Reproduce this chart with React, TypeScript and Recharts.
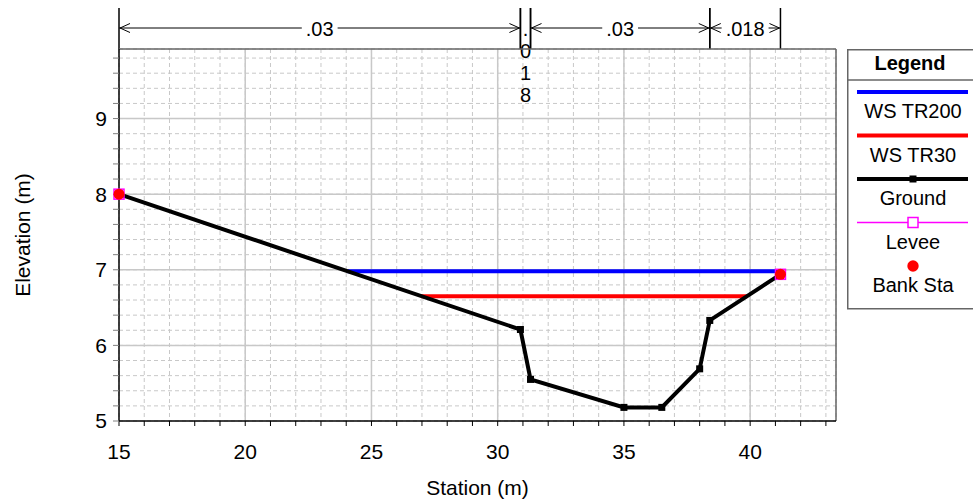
import React from 'react';
import {
  ComposedChart,
  Line,
  XAxis,
  YAxis,
  CartesianGrid,
  ReferenceLine,
  ReferenceArea,
  Legend,
} from 'recharts';

// ground profile
const groundStation = [15, 30.9, 31.3, 35.0, 36.5, 38.0, 38.4, 41.2];
const groundElev = [8.0, 6.21, 5.55, 5.18, 5.18, 5.69, 6.33, 6.94];

// water surfaces
const tr200Station = [24.05, 41.2];
const tr200Elev = [6.98, 6.98];
const tr30Station = [26.96, 39.89];
const tr30Elev = [6.65, 6.65];

// levees and bank stations
const leveeStation = [15, 41.2];
const leveeElev = [8.0, 6.94];
const bankStation = [15, 41.2];
const bankElev = [8.0, 6.94];

// manning's n along the top
const nBreaks = [15, 30.9, 31.3, 38.4, 41.2];
const nValues = ['.03', '.018', '.03', '.018'];

const xDomain = [15, 43.4];
const yDomain = [5, 9.92];
const xMajor = [20, 25, 30, 35, 40];
const yMajor = [6, 7, 8, 9];
const xTicks = Array.from({ length: 29 }, (_, i) => 15 + i);
const yTicks = Array.from({ length: 25 }, (_, i) => Number((5 + i * 0.2).toFixed(1)));

const FONT = '"Liberation Sans", Arial, Helvetica, sans-serif';

const toPoints = (xs: number[], ys: number[]) => xs.map((x, i) => ({ x, y: ys[i] }));

const ground = toPoints(groundStation, groundElev);
const tr200 = toPoints(tr200Station, tr200Elev);
const tr30 = toPoints(tr30Station, tr30Elev);
const levee = toPoints(leveeStation, leveeElev);
const bank = toPoints(bankStation, bankElev);

const SquareDot = (p: any) => (
  <rect key={`g${p.index}`} x={p.cx - 3.5} y={p.cy - 3.5} width={7} height={7} fill="#000" />
);
const LeveeDot = (p: any) => (
  <rect key={`l${p.index}`} x={p.cx - 5} y={p.cy - 5} width={10} height={10} fill="none" stroke="#ff00ff" strokeWidth={1.5} />
);
const BankDot = (p: any) => (
  <circle key={`b${p.index}`} cx={p.cx} cy={p.cy} r={5.5} fill="#ff0000" />
);

const charW = (s: string, fs: number) =>
  s.split('').reduce((w, c) => w + (c === '.' ? 0.278 : 0.556) * fs, 0);

const nShape = (label: string) => (props: any) => {
  const { x, y, width } = props;
  const x1 = x;
  const x2 = x + width;
  const top = y - 41;
  const ay = y - 21;
  const fs = 20;
  const cx = (x1 + x2) / 2;
  const boundaries = (
    <g stroke="#000" strokeWidth={1.5}>
      <line x1={x1} y1={top} x2={x1} y2={y} />
      <line x1={x2} y1={top} x2={x2} y2={y} />
    </g>
  );
  if (width < 20) {
    return (
      <g>
        {boundaries}
        {label.split('').map((c, i) => (
          <text key={i} x={cx} y={ay + 8 + i * 22} textAnchor="middle" fontSize={fs} fontFamily={FONT} fill="#000">
            {c}
          </text>
        ))}
      </g>
    );
  }
  const tw = charW(label, fs);
  const tl = cx - tw / 2 - 4;
  const tr = cx + tw / 2 + 4;
  return (
    <g>
      {boundaries}
      <g stroke="#000" strokeWidth={1} fill="none">
        {tl > x1 && <line x1={x1} y1={ay} x2={tl} y2={ay} />}
        {tr < x2 && <line x1={tr} y1={ay} x2={x2} y2={ay} />}
        <polyline points={`${x1 + 11},${ay - 4.5} ${x1 + 1},${ay} ${x1 + 11},${ay + 4.5}`} />
        <polyline points={`${x2 - 11},${ay - 4.5} ${x2 - 1},${ay} ${x2 - 11},${ay + 4.5}`} />
      </g>
      <text x={cx} y={ay + 8} textAnchor="middle" fontSize={fs} fontFamily={FONT} fill="#000">
        {label}
      </text>
    </g>
  );
};

const legendItems = [
  { name: 'WS TR200', color: '#0000ff', kind: 'line' },
  { name: 'WS TR30', color: '#ff0000', kind: 'line' },
  { name: 'Ground', color: '#000000', kind: 'lineSquare' },
  { name: 'Levee', color: '#ff00ff', kind: 'thinBox' },
  { name: 'Bank Sta', color: '#ff0000', kind: 'dot' },
];

const LegendBox = () => (
  <svg width={126} height={262} style={{ display: 'block' }}>
    <rect x={0.75} y={0.75} width={140} height={259} fill="#fff" stroke="#666" strokeWidth={1.5} />
    <text x={63} y={21} textAnchor="middle" fontSize={20} fontWeight="bold" fontFamily={FONT} fill="#000">
      Legend
    </text>
    <line x1={0} y1={31} x2={126} y2={31} stroke="#666" strokeWidth={1.5} />
    {legendItems.map((it, i) => {
      const ly = 43 + i * 43.5;
      return (
        <g key={it.name}>
          {it.kind !== 'dot' && (
            <line x1={10} y1={ly} x2={121} y2={ly} stroke={it.color} strokeWidth={it.kind === 'thinBox' ? 1.5 : 4} />
          )}
          {it.kind === 'lineSquare' && <rect x={62.5} y={ly - 3.5} width={7} height={7} fill="#000" />}
          {it.kind === 'thinBox' && (
            <rect x={61} y={ly - 5} width={10} height={10} fill="#fff" stroke={it.color} strokeWidth={1.5} />
          )}
          {it.kind === 'dot' && <circle cx={66} cy={ly} r={5.7} fill={it.color} />}
          <text x={66} y={ly + 26} textAnchor="middle" fontSize={20} fontFamily={FONT} fill="#000">
            {it.name}
          </text>
        </g>
      );
    })}
  </svg>
);

export default function App() {
  return (
    <div style={{ position: 'absolute', left: 0, top: 0, background: '#fff' }}>
      <ComposedChart width={973} height={501} margin={{ top: 49, right: 137, bottom: 0, left: 0 }}>
        <CartesianGrid stroke="#c8c8c8" strokeDasharray="4 3" />
        {xMajor.map((v) => (
          <ReferenceLine key={`vx${v}`} x={v} stroke="#c8c8c8" strokeWidth={1.5} />
        ))}
        {yMajor.map((v) => (
          <ReferenceLine key={`vy${v}`} y={v} stroke="#c8c8c8" strokeWidth={1.5} />
        ))}
        <ReferenceLine y={yDomain[1]} stroke="#666" strokeWidth={1.5} />
        <ReferenceLine x={xDomain[1]} stroke="#666" strokeWidth={1.5} />
        {nValues.map((n, i) => (
          <ReferenceArea
            key={`n${i}`}
            x1={nBreaks[i]}
            x2={nBreaks[i + 1]}
            fill="none"
            shape={nShape(n)}
          />
        ))}
        <XAxis
          type="number"
          dataKey="x"
          domain={xDomain}
          ticks={xTicks}
          interval={0}
          height={80}
          tickSize={5}
          tickMargin={18}
          tickFormatter={(v: number) => (v % 5 === 0 ? String(v) : '')}
          tick={{ fontSize: 21, fill: '#000', fontFamily: FONT }}
          tickLine={{ stroke: '#000' }}
          axisLine={{ stroke: '#000', strokeWidth: 1.5 }}
          label={(p: any) => (
            <text
              x={p.viewBox.x + p.viewBox.width / 2}
              y={p.viewBox.y + 74}
              textAnchor="middle"
              fontSize={21}
              fontFamily={FONT}
              fill="#000"
            >
              Station (m)
            </text>
          )}
        />
        <YAxis
          type="number"
          dataKey="y"
          domain={yDomain}
          ticks={yTicks}
          interval={0}
          width={119}
          tickSize={6}
          tickMargin={6}
          tickFormatter={(v: number) => (Number.isInteger(v) ? String(v) : '')}
          tick={{ fontSize: 21, fill: '#000', fontFamily: FONT }}
          tickLine={{ stroke: '#808080' }}
          axisLine={{ stroke: '#000', strokeWidth: 1.5 }}
          label={(p: any) => {
            const lx = p.viewBox.x + 30;
            const ly = p.viewBox.y + p.viewBox.height / 2;
            return (
              <text
                x={lx}
                y={ly}
                transform={`rotate(-90, ${lx}, ${ly})`}
                textAnchor="middle"
                fontSize={21}
                fontFamily={FONT}
                fill="#000"
              >
                Elevation (m)
              </text>
            );
          }}
        />
        <Line data={tr200} dataKey="y" name="WS TR200" stroke="#0000ff" strokeWidth={4} dot={false} isAnimationActive={false} />
        <Line data={tr30} dataKey="y" name="WS TR30" stroke="#ff0000" strokeWidth={4} dot={false} isAnimationActive={false} />
        <Line data={ground} dataKey="y" name="Ground" stroke="#000" strokeWidth={4} dot={SquareDot} isAnimationActive={false} />
        <Line data={levee} dataKey="y" name="Levee" stroke="transparent" strokeWidth={0} dot={LeveeDot} isAnimationActive={false} />
        <Line data={bank} dataKey="y" name="Bank Sta" stroke="transparent" strokeWidth={0} dot={BankDot} isAnimationActive={false} />
        <Legend
          layout="horizontal"
          verticalAlign="middle"
          align="center"
          content={() => <LegendBox />}
          wrapperStyle={{ position: 'absolute', left: 847, top: 49, width: 126, height: 262 }}
        />
      </ComposedChart>
    </div>
  );
}
